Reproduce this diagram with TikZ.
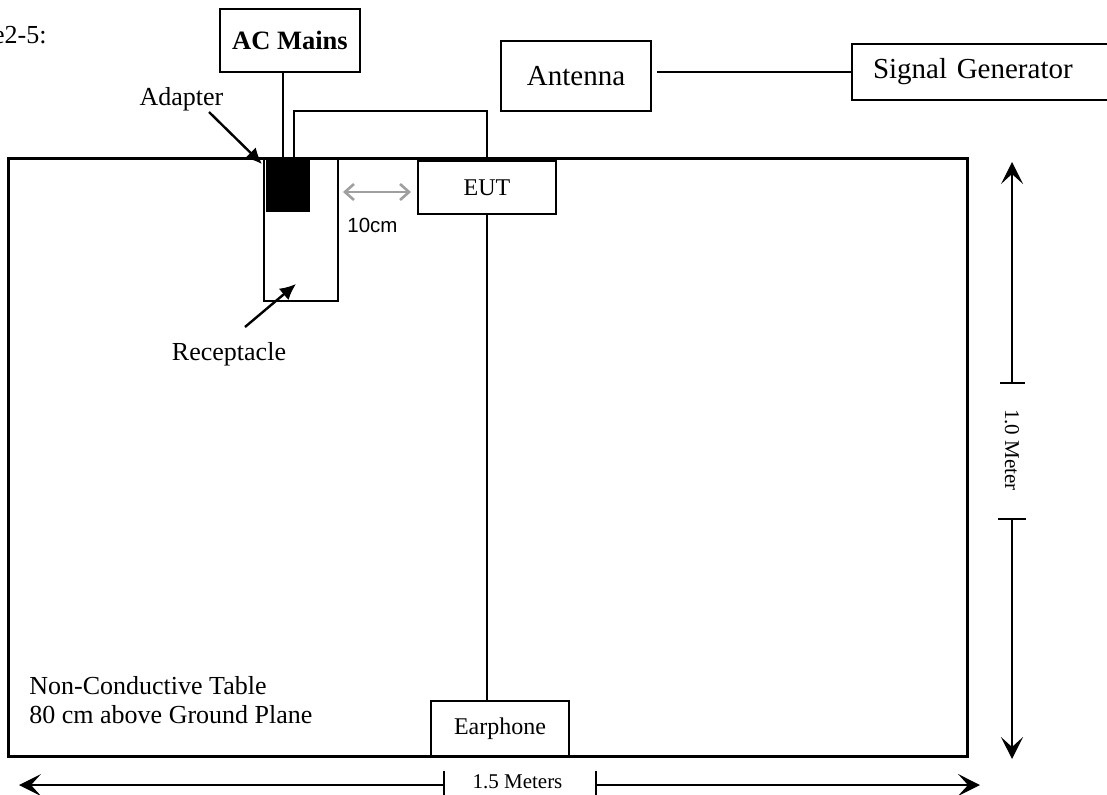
\documentclass[tikz,border=0pt]{standalone}
\usepackage{fontspec}
\setmainfont{Liberation Serif}
\setsansfont{Liberation Sans}
\usetikzlibrary{arrows.meta}

\begin{document}
\begin{tikzpicture}[x=0.5pt,y=-0.5pt,
  unitbox/.style={draw,line width=1pt,inner sep=0pt},
  wire/.style={line width=0.9pt},
  pointer/.style={line width=1.2pt,-{Latex[length=8pt,width=7.5pt]}},
  dimline/.style={line width=0.75pt,-{Stealth[length=11pt,width=11pt,inset=5pt]}},
  bigtxt/.style={font=\fontsize{14.5}{17}\selectfont},
  midtxt/.style={inner sep=0pt,font=\fontsize{13}{15}\selectfont},
  smalltxt/.style={font=\fontsize{12}{14}\selectfont},
  dimtxt/.style={inner sep=0pt,font=\fontsize{10.5}{12}\selectfont}]
  \useasboundingbox (0,0) rectangle (1107,794);
  \node[midtxt,anchor=base east] (caption) at (47,43) {e2-5:};

  % table, receptacle, adapter
  \node[draw,line width=1.5pt,minimum width=479.5pt,minimum height=299pt] (table) at (487.5,457) {};
  \node[unitbox,minimum width=37pt,minimum height=71.5pt] (receptacle) at (301,229.5) {};
  \node[unitbox,fill=black,minimum width=21pt,minimum height=26pt] (adapter) at (288,185) {};
  \coordinate (plugA) at ([xshift=-2.5pt]adapter.north);
  \coordinate (plugB) at ([xshift=3pt]adapter.north);
  \coordinate (cablebend) at (294,111);

  % equipment boxes
  \node[unitbox,minimum width=70pt,minimum height=31.5pt,font=\fontsize{13.25}{15}\selectfont\bfseries] (acmains) at (290,40.5) {AC Mains};
  \node[unitbox,bigtxt,minimum width=75pt,minimum height=35pt] (antenna) at (576,76) {Antenna};
  \node[unitbox,bigtxt,anchor=west,minimum height=28pt,inner xsep=10.5pt,text width=125pt,align=left] (siggen) at (851,72) {Signal Generator};
  \node[unitbox,smalltxt,minimum width=69pt,minimum height=26.5pt] (eut) at (487,187.5) {EUT};
  \node[unitbox,smalltxt,minimum width=69pt,minimum height=27.5pt] (earphone) at (500,728.5) {Earphone};

  % cables
  \draw[wire] (acmains.south -| plugA) -- (plugA);
  \draw[wire] (plugB) -- (cablebend) -| (eut.north);
  \draw[wire] ([xshift=2.5pt]antenna.east |- siggen.west) -- (siggen.west);
  \draw[wire] (eut.south) -- (eut.south |- earphone.north);

  % labels
  \node[midtxt,anchor=base] (adaptertxt) at (181.5,105) {Adapter};
  \draw[pointer] (209,112) -- ([shift={(-2pt,-3pt)}]adapter.north west);
  \node[midtxt,anchor=base] (receptacletxt) at (229,360) {Receptacle};
  \draw[pointer] (245,327) -- (296,284);
  \draw[gray!75,line width=1.3pt,{Straight Barb[length=4.5pt,width=8pt]}-{Straight Barb[length=4.5pt,width=8pt]}]
    ([xshift=2pt]receptacle.east |- 0,192) -- ([xshift=-3pt]eut.west |- 0,192);
  \node[inner sep=0pt,anchor=base west,font=\sffamily\fontsize{10.25}{12}\selectfont] (gaptxt) at (347,232) {10cm};
  \node[midtxt,anchor=base west] (tabletxtA) at (29,694) {Non-Conductive Table};
  \node[midtxt,anchor=base west] (tabletxtB) at (29,723) {80 cm above Ground Plane};

  % dimensions
  \coordinate (wbarL) at (444,785); \coordinate (wtipL) at (19,785);
  \coordinate (wbarR) at (596,785); \coordinate (wtipR) at (980,785);
  \draw[dimline] (wbarL) -- (wtipL);
  \draw[dimline] (wbarR) -- (wtipR);
  \draw[wire] (444,771) -- (444,800);
  \draw[wire] (596,771) -- (596,800);
  \node[dimtxt,anchor=base] (widthtxt) at (517.5,788) {1.5 Meters};

  \coordinate (hbarT) at (1012,383); \coordinate (htipT) at (1012,162);
  \coordinate (hbarB) at (1012,519); \coordinate (htipB) at (1012,759);
  \draw[dimline] (hbarT) -- (htipT);
  \draw[dimline] (hbarB) -- (htipB);
  \draw[wire] (1000,383) -- (1025,383);
  \draw[wire] (998,519) -- (1026,519);
  \node[dimtxt,rotate=-90] (heighttxt) at (1012,450) {1.0 Meter};
\end{tikzpicture}
\end{document}
